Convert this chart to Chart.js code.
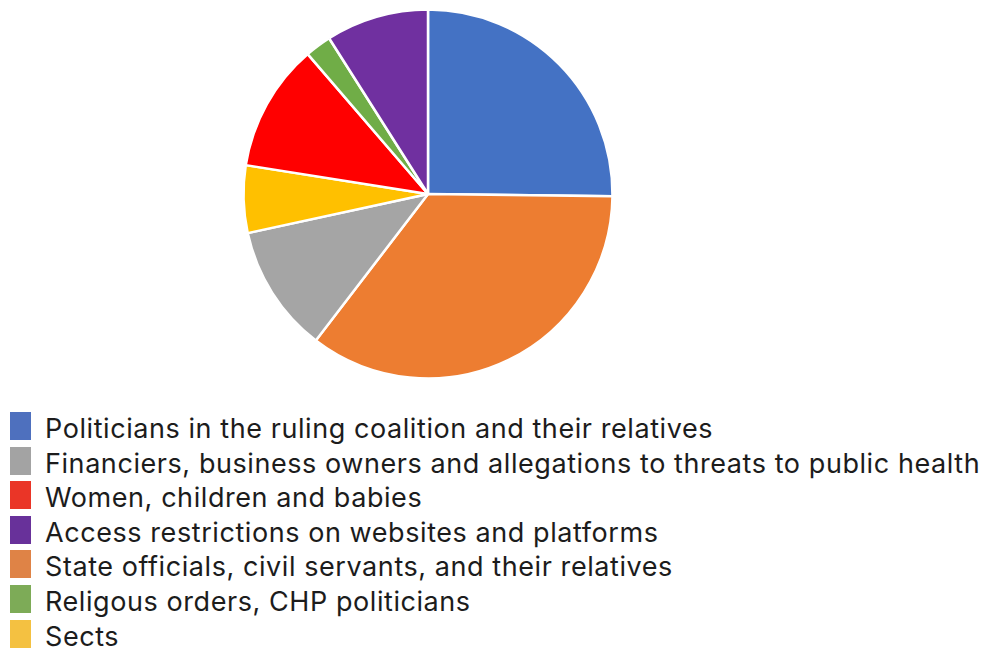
<!DOCTYPE html>
<html>
<head>
<meta charset="utf-8">
<script src="https://cdn.jsdelivr.net/npm/chart.js@4.4.0/dist/chart.umd.min.js"></script>
<style>
  body { margin: 0; background: #fff; width: 986px; height: 655px; overflow: hidden; position: relative; }
  #pieWrap { position: absolute; left: 238px; top: 4px; width: 380px; height: 380px; }
  #legend { position: absolute; left: 0; top: 0; }
  .row { position: absolute; left: 10px; height: 28px; }
  .box { position: absolute; left: 0; top: 0; width: 21px; height: 28px; }
  .txt { position: absolute; left: 35px; top: 3px; white-space: nowrap; font-family: Inter, sans-serif;
         font-size: 27px; line-height: 28px; color: #1c1c1c; }
</style>
</head>
<body>
<div id="pieWrap"><canvas id="myChart"></canvas></div>
<div id="legend"></div>
<script>
// slices, clockwise from 12 o'clock (share of items, %)
var categories = [
  "Politicians in the ruling coalition and their relatives",
  "State officials, civil servants, and their relatives",
  "Financiers, business owners and allegations to threats to public health",
  "Sects",
  "Women, children and babies",
  "Religous orders, CHP politicians",
  "Access restrictions on websites and platforms"
];
var shares = [25.2, 35.2, 11.2, 5.9, 11.2, 2.3, 9.0];
var sliceColors = ["#4472C4", "#ED7D31", "#A5A5A5", "#FFC000", "#FF0000", "#70AD47", "#7030A0"];

// legend is listed in a different order and with its own swatch tones
var legendOrder = [0, 2, 4, 6, 1, 5, 3];
var legendColors = ["#4E70BE", "#DF8346", "#A3A3A3", "#F4C141", "#EA3527", "#7DAB57", "#68319A"];

new Chart("myChart", {
  type: "pie",
  data: {
    labels: categories,
    datasets: [
      {
        backgroundColor: sliceColors,
        borderColor: "#ffffff",
        borderWidth: 2.5,
        data: shares,
      },
    ],
  },
  options: {
    responsive: true,
    maintainAspectRatio: false,
    animation: false,
    radius: 184.5,
    plugins: {
      legend: { display: false },
      tooltip: { enabled: false },
    },
  },
});

// html legend, one entry per line
var legend = document.getElementById("legend");
legendOrder.forEach(function (idx, i) {
  var row = document.createElement("div");
  row.className = "row";
  row.style.top = (412 + i * 34.6) + "px";
  var box = document.createElement("div");
  box.className = "box";
  box.style.background = legendColors[idx];
  var txt = document.createElement("div");
  txt.className = "txt";
  txt.textContent = categories[idx];
  row.appendChild(box);
  row.appendChild(txt);
  legend.appendChild(row);
});

// stretch letter spacing so the longest line ends near the right edge
var ctx = document.createElement("canvas").getContext("2d");
ctx.font = "27px Inter";
var longest = categories[2];
var w = ctx.measureText(longest).width;
var ls = (935 - w) / longest.length;
document.querySelectorAll(".txt").forEach(function (el) {
  el.style.letterSpacing = ls.toFixed(2) + "px";
});
</script>
</body>
</html>
